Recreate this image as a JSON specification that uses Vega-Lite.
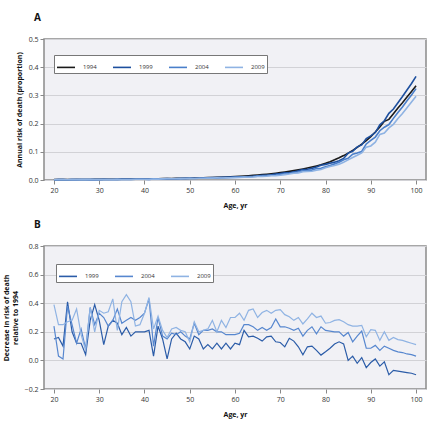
{
  "$schema": "https://vega.github.io/schema/vega-lite/v6.json",
  "padding": {"left": 1, "top": 12, "right": 10, "bottom": 5},
  "background": "white",
  "spacing": 10,
  "config": {
    "font": "Open Sans",
    "view": {"fill": "#f1f1f5", "stroke": "#8a8a8a", "strokeWidth": 1.5},
    "axis": {"labelFont": "Open Sans", "labelFontSize": 7, "labelColor": "#333", "titleFont": "Open Sans", "titleFontSize": 7, "titleFontWeight": "bold", "titleColor": "#111", "domain": false, "tickColor": "#888", "tickSize": 4, "labelPadding": 2, "gridColor": "#d2d2d6", "gridWidth": 1},
    "legend": {"orient": "none", "direction": "horizontal", "title": null, "symbolType": "stroke", "symbolSize": 324, "symbolStrokeWidth": 1.6, "labelFont": "Open Sans", "labelFontSize": 6, "labelColor": "#333", "labelOffset": 7, "columnPadding": 12, "padding": 2, "strokeColor": "#777", "fillColor": "#ffffff"},
    "title": {"font": "Open Sans", "fontSize": 10, "fontWeight": "bold", "anchor": "start", "frame": "group", "dx": -10, "offset": 12, "color": "#111"}
  },
  "datasets": {
    "a": [
      {"age":20,"1994":0.0013,"1999":0.0011,"2004":0.0010,"2009":0.0008},
      {"age":21,"1994":0.0014,"1999":0.0012,"2004":0.0014,"2009":0.0011},
      {"age":22,"1994":0.0015,"1999":0.0014,"2004":0.0015,"2009":0.0011},
      {"age":23,"1994":0.0015,"1999":0.0009,"2004":0.0009,"2009":0.0011},
      {"age":24,"1994":0.0016,"1999":0.0013,"2004":0.0012,"2009":0.0012},
      {"age":25,"1994":0.0017,"1999":0.0015,"2004":0.0015,"2009":0.0011},
      {"age":26,"1994":0.0018,"1999":0.0016,"2004":0.0014,"2009":0.0015},
      {"age":27,"1994":0.0019,"1999":0.0018,"2004":0.0017,"2009":0.0018},
      {"age":28,"1994":0.0020,"1999":0.0014,"2004":0.0013,"2009":0.0013},
      {"age":29,"1994":0.0021,"1999":0.0013,"2004":0.0016,"2009":0.0017},
      {"age":30,"1994":0.0022,"1999":0.0016,"2004":0.0015,"2009":0.0014},
      {"age":31,"1994":0.0024,"1999":0.0021,"2004":0.0017,"2009":0.0016},
      {"age":32,"1994":0.0025,"1999":0.0019,"2004":0.0019,"2009":0.0017},
      {"age":33,"1994":0.0026,"1999":0.0019,"2004":0.0019,"2009":0.0015},
      {"age":34,"1994":0.0028,"1999":0.0021,"2004":0.0018,"2009":0.0022},
      {"age":35,"1994":0.0030,"1999":0.0025,"2004":0.0022,"2009":0.0018},
      {"age":36,"1994":0.0031,"1999":0.0024,"2004":0.0022,"2009":0.0017},
      {"age":37,"1994":0.0033,"1999":0.0027,"2004":0.0023,"2009":0.0019},
      {"age":38,"1994":0.0035,"1999":0.0028,"2004":0.0025,"2009":0.0027},
      {"age":39,"1994":0.0037,"1999":0.0030,"2004":0.0026,"2009":0.0028},
      {"age":40,"1994":0.0039,"1999":0.0031,"2004":0.0026,"2009":0.0026},
      {"age":41,"1994":0.0041,"1999":0.0032,"2004":0.0023,"2009":0.0023},
      {"age":42,"1994":0.0044,"1999":0.0043,"2004":0.0040,"2009":0.0034},
      {"age":43,"1994":0.0046,"1999":0.0035,"2004":0.0032,"2009":0.0032},
      {"age":44,"1994":0.0049,"1999":0.0042,"2004":0.0041,"2009":0.0039},
      {"age":45,"1994":0.0052,"1999":0.0051,"2004":0.0044,"2009":0.0044},
      {"age":46,"1994":0.0055,"1999":0.0047,"2004":0.0045,"2009":0.0043},
      {"age":47,"1994":0.0058,"1999":0.0047,"2004":0.0048,"2009":0.0045},
      {"age":48,"1994":0.0061,"1999":0.0052,"2004":0.0049,"2009":0.0048},
      {"age":49,"1994":0.0064,"1999":0.0056,"2004":0.0053,"2009":0.0051},
      {"age":50,"1994":0.0068,"1999":0.0063,"2004":0.0058,"2009":0.0059},
      {"age":51,"1994":0.0072,"1999":0.0060,"2004":0.0053,"2009":0.0053},
      {"age":52,"1994":0.0076,"1999":0.0065,"2004":0.0062,"2009":0.0061},
      {"age":53,"1994":0.0080,"1999":0.0074,"2004":0.0063,"2009":0.0063},
      {"age":54,"1994":0.0085,"1999":0.0076,"2004":0.0067,"2009":0.0066},
      {"age":55,"1994":0.0090,"1999":0.0083,"2004":0.0070,"2009":0.0065},
      {"age":56,"1994":0.0095,"1999":0.0084,"2004":0.0076,"2009":0.0076},
      {"age":57,"1994":0.0100,"1999":0.0092,"2004":0.0080,"2009":0.0072},
      {"age":58,"1994":0.0105,"1999":0.0092,"2004":0.0086,"2009":0.0081},
      {"age":59,"1994":0.0111,"1999":0.0102,"2004":0.0091,"2009":0.0078},
      {"age":60,"1994":0.0120,"1999":0.0106,"2004":0.0098,"2009":0.0084},
      {"age":61,"1994":0.0130,"1999":0.0116,"2004":0.0105,"2009":0.0087},
      {"age":62,"1994":0.0140,"1999":0.0111,"2004":0.0105,"2009":0.0101},
      {"age":63,"1994":0.0151,"1999":0.0126,"2004":0.0113,"2009":0.0098},
      {"age":64,"1994":0.0163,"1999":0.0135,"2004":0.0125,"2009":0.0104},
      {"age":65,"1994":0.0176,"1999":0.0149,"2004":0.0139,"2009":0.0123},
      {"age":66,"1994":0.0190,"1999":0.0164,"2004":0.0146,"2009":0.0126},
      {"age":67,"1994":0.0205,"1999":0.0171,"2004":0.0162,"2009":0.0133},
      {"age":68,"1994":0.0222,"1999":0.0184,"2004":0.0171,"2009":0.0149},
      {"age":69,"1994":0.0240,"1999":0.0209,"2004":0.0170,"2009":0.0156},
      {"age":70,"1994":0.0260,"1999":0.0228,"2004":0.0199,"2009":0.0168},
      {"age":71,"1994":0.0282,"1999":0.0255,"2004":0.0216,"2009":0.0192},
      {"age":72,"1994":0.0306,"1999":0.0259,"2004":0.0237,"2009":0.0213},
      {"age":73,"1994":0.0332,"1999":0.0287,"2004":0.0262,"2009":0.0239},
      {"age":74,"1994":0.0360,"1999":0.0326,"2004":0.0279,"2009":0.0252},
      {"age":75,"1994":0.0390,"1999":0.0374,"2004":0.0324,"2009":0.0291},
      {"age":76,"1994":0.0423,"1999":0.0383,"2004":0.0334,"2009":0.0300},
      {"age":77,"1994":0.0459,"1999":0.0413,"2004":0.0351,"2009":0.0308},
      {"age":78,"1994":0.0498,"1999":0.0463,"2004":0.0406,"2009":0.0349},
      {"age":79,"1994":0.0540,"1999":0.0520,"2004":0.0413,"2009":0.0373},
      {"age":80,"1994":0.0590,"1999":0.0555,"2004":0.0466,"2009":0.0437},
      {"age":81,"1994":0.0650,"1999":0.0595,"2004":0.0517,"2009":0.0478},
      {"age":82,"1994":0.0715,"1999":0.0633,"2004":0.0572,"2009":0.0515},
      {"age":83,"1994":0.0787,"1999":0.0685,"2004":0.0630,"2009":0.0563},
      {"age":84,"1994":0.0866,"1999":0.0766,"2004":0.0719,"2009":0.0632},
      {"age":85,"1994":0.0953,"1999":0.0953,"2004":0.0767,"2009":0.0715},
      {"age":86,"1994":0.1049,"1999":0.1018,"2004":0.0913,"2009":0.0797},
      {"age":87,"1994":0.1154,"1999":0.1177,"2004":0.0958,"2009":0.0877},
      {"age":88,"1994":0.1270,"1999":0.1245,"2004":0.1010,"2009":0.0959},
      {"age":89,"1994":0.1397,"1999":0.1467,"2004":0.1278,"2009":0.1166},
      {"age":90,"1994":0.1540,"1999":0.1563,"2004":0.1409,"2009":0.1209},
      {"age":91,"1994":0.1700,"1999":0.1683,"2004":0.1522,"2009":0.1343},
      {"age":92,"1994":0.1880,"1999":0.1955,"2004":0.1748,"2009":0.1617},
      {"age":93,"1994":0.2080,"1999":0.2101,"2004":0.1872,"2009":0.1664},
      {"age":94,"1994":0.2150,"1999":0.2365,"2004":0.1967,"2009":0.1849},
      {"age":95,"1994":0.2350,"1999":0.2515,"2004":0.2186,"2009":0.1974},
      {"age":96,"1994":0.2550,"1999":0.2741,"2004":0.2397,"2009":0.2180},
      {"age":97,"1994":0.2740,"1999":0.2959,"2004":0.2589,"2009":0.2356},
      {"age":98,"1994":0.2940,"1999":0.3190,"2004":0.2808,"2009":0.2558},
      {"age":99,"1994":0.3140,"1999":0.3423,"2004":0.3014,"2009":0.2763},
      {"age":100,"1994":0.3340,"1999":0.3674,"2004":0.3240,"2009":0.2973}
    ],
    "b": [
      {"age":20,"1999":0.15,"2004":0.24,"2009":0.39},
      {"age":21,"1999":0.16,"2004":0.03,"2009":0.25},
      {"age":22,"1999":0.10,"2004":0.01,"2009":0.25},
      {"age":23,"1999":0.41,"2004":0.38,"2009":0.27},
      {"age":24,"1999":0.20,"2004":0.25,"2009":0.28},
      {"age":25,"1999":0.12,"2004":0.12,"2009":0.36},
      {"age":26,"1999":0.12,"2004":0.22,"2009":0.18},
      {"age":27,"1999":0.04,"2004":0.08,"2009":0.07},
      {"age":28,"1999":0.28,"2004":0.37,"2009":0.37},
      {"age":29,"1999":0.39,"2004":0.25,"2009":0.20},
      {"age":30,"1999":0.28,"2004":0.33,"2009":0.35},
      {"age":31,"1999":0.11,"2004":0.30,"2009":0.33},
      {"age":32,"1999":0.24,"2004":0.24,"2009":0.34},
      {"age":33,"1999":0.28,"2004":0.28,"2009":0.43},
      {"age":34,"1999":0.26,"2004":0.36,"2009":0.21},
      {"age":35,"1999":0.18,"2004":0.26,"2009":0.41},
      {"age":36,"1999":0.23,"2004":0.28,"2009":0.46},
      {"age":37,"1999":0.17,"2004":0.30,"2009":0.41},
      {"age":38,"1999":0.20,"2004":0.28,"2009":0.24},
      {"age":39,"1999":0.20,"2004":0.30,"2009":0.25},
      {"age":40,"1999":0.20,"2004":0.33,"2009":0.33},
      {"age":41,"1999":0.21,"2004":0.43,"2009":0.44},
      {"age":42,"1999":0.03,"2004":0.10,"2009":0.22},
      {"age":43,"1999":0.24,"2004":0.30,"2009":0.31},
      {"age":44,"1999":0.15,"2004":0.17,"2009":0.21},
      {"age":45,"1999":0.01,"2004":0.15,"2009":0.16},
      {"age":46,"1999":0.15,"2004":0.19,"2009":0.22},
      {"age":47,"1999":0.19,"2004":0.18,"2009":0.23},
      {"age":48,"1999":0.15,"2004":0.20,"2009":0.21},
      {"age":49,"1999":0.13,"2004":0.17,"2009":0.20},
      {"age":50,"1999":0.08,"2004":0.15,"2009":0.13},
      {"age":51,"1999":0.17,"2004":0.26,"2009":0.27},
      {"age":52,"1999":0.15,"2004":0.18,"2009":0.20},
      {"age":53,"1999":0.08,"2004":0.21,"2009":0.21},
      {"age":54,"1999":0.11,"2004":0.21,"2009":0.22},
      {"age":55,"1999":0.08,"2004":0.22,"2009":0.28},
      {"age":56,"1999":0.12,"2004":0.20,"2009":0.20},
      {"age":57,"1999":0.08,"2004":0.20,"2009":0.28},
      {"age":58,"1999":0.12,"2004":0.18,"2009":0.23},
      {"age":59,"1999":0.08,"2004":0.18,"2009":0.30},
      {"age":60,"1999":0.12,"2004":0.18,"2009":0.30},
      {"age":61,"1999":0.11,"2004":0.19,"2009":0.33},
      {"age":62,"1999":0.21,"2004":0.25,"2009":0.28},
      {"age":63,"1999":0.165,"2004":0.25,"2009":0.35},
      {"age":64,"1999":0.17,"2004":0.235,"2009":0.36},
      {"age":65,"1999":0.155,"2004":0.21,"2009":0.30},
      {"age":66,"1999":0.135,"2004":0.23,"2009":0.335},
      {"age":67,"1999":0.165,"2004":0.21,"2009":0.35},
      {"age":68,"1999":0.17,"2004":0.23,"2009":0.33},
      {"age":69,"1999":0.13,"2004":0.29,"2009":0.35},
      {"age":70,"1999":0.125,"2004":0.235,"2009":0.355},
      {"age":71,"1999":0.095,"2004":0.235,"2009":0.32},
      {"age":72,"1999":0.155,"2004":0.225,"2009":0.305},
      {"age":73,"1999":0.135,"2004":0.21,"2009":0.28},
      {"age":74,"1999":0.095,"2004":0.225,"2009":0.30},
      {"age":75,"1999":0.04,"2004":0.17,"2009":0.255},
      {"age":76,"1999":0.095,"2004":0.21,"2009":0.29},
      {"age":77,"1999":0.10,"2004":0.235,"2009":0.33},
      {"age":78,"1999":0.07,"2004":0.185,"2009":0.30},
      {"age":79,"1999":0.037,"2004":0.235,"2009":0.31},
      {"age":80,"1999":0.06,"2004":0.21,"2009":0.26},
      {"age":81,"1999":0.085,"2004":0.205,"2009":0.265},
      {"age":82,"1999":0.115,"2004":0.20,"2009":0.28},
      {"age":83,"1999":0.13,"2004":0.20,"2009":0.285},
      {"age":84,"1999":0.115,"2004":0.17,"2009":0.27},
      {"age":85,"1999":0.0,"2004":0.195,"2009":0.25},
      {"age":86,"1999":0.03,"2004":0.13,"2009":0.24},
      {"age":87,"1999":-0.02,"2004":0.17,"2009":0.24},
      {"age":88,"1999":0.02,"2004":0.205,"2009":0.245},
      {"age":89,"1999":-0.05,"2004":0.085,"2009":0.165},
      {"age":90,"1999":-0.015,"2004":0.085,"2009":0.215},
      {"age":91,"1999":0.01,"2004":0.105,"2009":0.21},
      {"age":92,"1999":-0.04,"2004":0.07,"2009":0.14},
      {"age":93,"1999":-0.01,"2004":0.10,"2009":0.20},
      {"age":94,"1999":-0.10,"2004":0.085,"2009":0.14},
      {"age":95,"1999":-0.07,"2004":0.07,"2009":0.16},
      {"age":96,"1999":-0.075,"2004":0.06,"2009":0.145},
      {"age":97,"1999":-0.08,"2004":0.055,"2009":0.14},
      {"age":98,"1999":-0.085,"2004":0.045,"2009":0.13},
      {"age":99,"1999":-0.09,"2004":0.04,"2009":0.12},
      {"age":100,"1999":-0.10,"2004":0.03,"2009":0.11}
    ]
  },
  "vconcat": [
    {
      "title": {"text": "A"},
      "width": 382,
      "height": 141,
      "data": {"name": "a"},
      "transform": [{"fold": ["1994", "1999", "2004", "2009"], "as": ["year", "risk"]}],
      "mark": {"type": "line", "strokeWidth": 1.6},
      "encoding": {
        "x": {"field": "age", "type": "quantitative", "scale": {"domain": [17.8, 102.2], "nice": false, "zero": false}, "axis": {"values": [20, 30, 40, 50, 60, 70, 80, 90, 100], "grid": false, "title": "Age, yr", "titlePadding": 8}},
        "y": {"field": "risk", "type": "quantitative", "scale": {"domain": [0, 0.5], "nice": false}, "axis": {"values": [0, 0.1, 0.2, 0.3, 0.4, 0.5], "format": ".1f", "title": "Annual risk of death (proportion)", "titlePadding": 6}},
        "color": {"field": "year", "type": "nominal", "scale": {"domain": ["1994", "1999", "2004", "2009"], "range": ["#1a1a1a", "#1d4f9e", "#4a7fca", "#8fb3e3"]}, "legend": {"legendX": 10, "legendY": 16}},
        "order": {"field": "year", "type": "nominal"}
      }
    },
    {
      "title": {"text": "B"},
      "width": 382,
      "height": 143,
      "data": {"name": "b"},
      "transform": [{"fold": ["1999", "2004", "2009"], "as": ["cohort", "decrease"]}],
      "mark": {"type": "line", "strokeWidth": 1.2},
      "encoding": {
        "x": {"field": "age", "type": "quantitative", "scale": {"domain": [17.8, 102.2], "nice": false, "zero": false}, "axis": {"values": [20, 30, 40, 50, 60, 70, 80, 90, 100], "grid": false, "title": "Age, yr", "titlePadding": 8}},
        "y": {"field": "decrease", "type": "quantitative", "scale": {"domain": [-0.2, 0.8], "nice": false}, "axis": {"values": [-0.2, 0, 0.2, 0.4, 0.6, 0.8], "format": ".1f", "title": ["Decrease in risk of death", "relative to 1994"], "titlePadding": 6}},
        "color": {"field": "cohort", "type": "nominal", "scale": {"domain": ["1999", "2004", "2009"], "range": ["#2b5ca8", "#5787cf", "#8fb3e3"]}, "legend": {"legendX": 12, "legendY": 18}}
      }
    }
  ],
  "resolve": {"scale": {"color": "independent"}, "legend": {"color": "independent"}}
}
